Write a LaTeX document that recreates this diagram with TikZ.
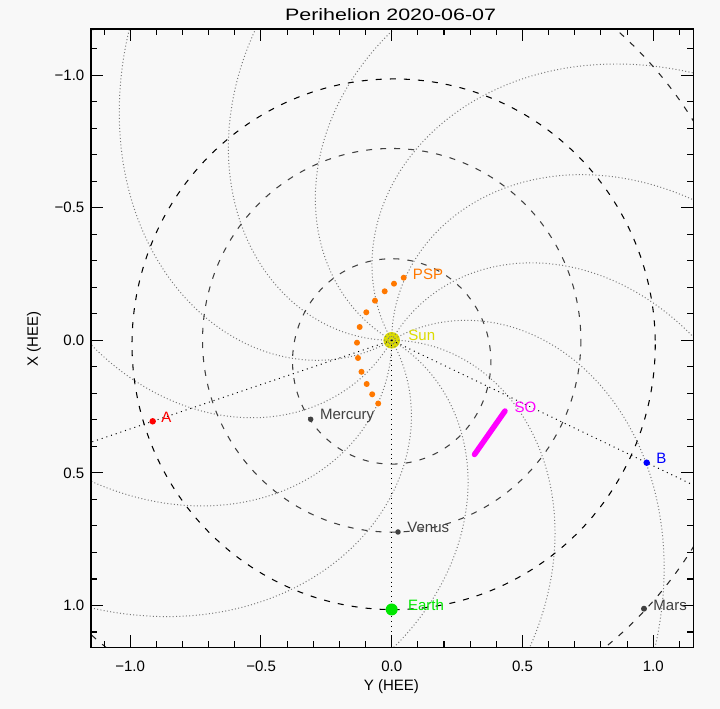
\documentclass[tikz,border=0pt]{standalone}
\usepackage{fontspec}
\usetikzlibrary{calc}
\setmainfont{Liberation Sans}
\newfontfamily\titlefont[FakeStretch=1.3]{Liberation Sans}
\newcommand{\lblsize}{\fontsize{4.27pt}{5pt}\selectfont}
\newcommand{\ttlsize}{\titlefont\fontsize{4.69pt}{5.5pt}\selectfont}
\definecolor{bg}{RGB}{248,248,248}
\definecolor{sunc}{RGB}{220,220,0}
\definecolor{earthc}{RGB}{0,230,0}
\definecolor{pspc}{RGB}{255,120,0}
\definecolor{planc}{RGB}{64,64,64}
\definecolor{spiralc}{RGB}{120,120,120}
\definecolor{soc}{RGB}{255,0,255}
\begin{document}
\begin{tikzpicture}[x=0.01cm, y=-0.01cm,
  spiral/.style={draw=spiralc, line width=0.28pt, dash pattern=on 0.28pt off 0.66pt},
  radial/.style={draw=black, line width=0.28pt, dash pattern=on 0.28pt off 1.12pt},
  orbit/.style={line width=0.3pt, dash pattern=on 1.7pt off 2.3pt},
  body/.style={circle, inner sep=0pt, minimum size=#1},
  lbl/.style={font=\lblsize, anchor=base west, inner sep=0pt},
  ticklbl/.style={font=\lblsize, inner sep=0pt},
  tickln/.style={line width=0.3pt},
]
\fill[bg] (0,0) rectangle (720,709);
\useasboundingbox (0,0) rectangle (720,709);

% positions
\coordinate (pA) at (152.7,421.3);
\coordinate (pB) at (646.7,462.7);
\coordinate (pE) at (391.7,609.5);
\coordinate (pMe) at (310.7,419.3);
\coordinate (pV) at (398,532);
\coordinate (pMa) at (644,608.7);
\coordinate (so1) at (474.5,454.5);
\coordinate (so2) at (505,411);

% Sun
\node[body=0.166cm, fill=sunc] (sun) at (391.7,340.3) {};

% plot contents
\begin{scope}
  \clip (91,29) rectangle (693.3,647.3);
  \begin{scope}[shift={(391.7,340.3)}, x=2.615cm, y=-2.652cm]
    \foreach \t in {0,30,...,330}
      \draw[spiral] plot[domain=0:1.75, samples=120, variable=\rr]
        ({\rr*cos(\t-51.5*\rr)}, {-\rr*sin(\t-51.5*\rr)});
    % Mercury
    \draw[orbit, draw=planc] plot[domain=0:360, samples=181, variable=\a]
      ({0.379*sin(\a)}, {0.0796+0.387*cos(\a)});
    % Venus
    \draw[orbit, draw=planc] plot[domain=0:360, samples=181, variable=\a]
      ({0.723*cos(\a)}, {0.723*sin(\a)});
    % Earth
    \draw[orbit, draw=black] plot[domain=0:360, samples=241, variable=\a]
      ({0.0074+cos(\a)}, {0.015+sin(\a)});
    % Mars
    \draw[orbit, draw=black!85] plot[domain=0:360, samples=361, variable=\a]
      ({-0.140+1.5237*cos(\a)*0.983+1.5170*sin(\a)*0.184},
       {-0.026+1.5237*cos(\a)*0.184-1.5170*sin(\a)*0.983});
  \end{scope}
  \draw[radial] (sun.center) -- ($(sun.center)!4!(pA)$);
  \draw[radial] (sun.center) -- ($(sun.center)!4!(pB)$);
  \draw[radial] (sun.center) -- ($(sun.center)!4!(pE)$);
\end{scope}

% axes frame
\draw[tickln] (91,29) rectangle (693.3,647.3);
\foreach \i in {-11,...,11}{
  \draw[tickln] ({391.7+26.15*\i},647.3) -- ++(0,-6.5);
  \draw[tickln] ({391.7+26.15*\i},29) -- ++(0,6.5);
  \draw[tickln] (91,{340.3+26.52*\i}) -- ++(6.5,0);
  \draw[tickln] (693.3,{340.3+26.52*\i}) -- ++(-6.5,0);
}
\foreach \i in {-10,-5,0,5,10}{
  \draw[tickln] ({391.7+26.15*\i},647.3) -- ++(0,-12.5);
  \draw[tickln] ({391.7+26.15*\i},29) -- ++(0,12.5);
  \draw[tickln] (91,{340.3+26.52*\i}) -- ++(12.5,0);
  \draw[tickln] (693.3,{340.3+26.52*\i}) -- ++(-12.5,0);
}
% tick labels
\node[ticklbl] (bx1) at (130.2,666.2) {−1.0};
\node[ticklbl] (bx2) at (261.1,666.2) {−0.5};
\node[ticklbl] (bx3) at (391.7,666.2) {0.0};
\node[ticklbl] (bx4) at (522.5,666.2) {0.5};
\node[ticklbl] (bx5) at (653.2,666.2) {1.0};
\node[ticklbl, anchor=east] (ly1) at (85,75.1) {−1.0};
\node[ticklbl, anchor=east] (ly2) at (85,207.7) {−0.5};
\node[ticklbl, anchor=east] (ly3) at (85,340.3) {0.0};
\node[ticklbl, anchor=east] (ly4) at (85,472.9) {0.5};
\node[ticklbl, anchor=east] (ly5) at (85,605.5) {1.0};
\node[ticklbl, anchor=base] (xlab) at (391.4,690.7) {Y (HEE)};
\node[ticklbl, rotate=90] (ylab) at (34,339.4) {X (HEE)};
\node[font=\ttlsize, anchor=base, inner sep=0pt] (title) at (390.6,20.7) {Perihelion 2020-06-07};

% Solar Orbiter track
\draw[soc, line width=0.055cm, line cap=round] (so1) -- (so2);

% PSP
\foreach \p [count=\k] in {(403.7,277.7),(394,283.7),(384.7,291.3),(375,300.7),(366.3,312.3),(359.7,327),(357,342.7),(358,358),(361.5,371.8),(366.7,384),(372.2,394.3),(378.2,403.5)}
  \node[body=0.06cm, fill=pspc] (psp\k) at \p {};

% bodies
\node[body=0.12cm, fill=earthc] (earth) at (pE) {};
\node[body=0.055cm, fill=planc] (mercury) at (pMe) {};
\node[body=0.055cm, fill=planc] (venus) at (pV) {};
\node[body=0.06cm, fill=planc] (mars) at (pMa) {};
\node[body=0.065cm, fill=red] (staA) at (pA) {};
\node[body=0.065cm, fill=blue] (staB) at (pB) {};

% labels
\node[lbl, text=sunc] (lsun) at (407.7,340.7) {Sun};
\node[lbl, text=pspc] (lpsp) at (412.3,279.7) {PSP};
\node[lbl, text=soc] (lso) at (514,412.7) {SO};
\node[lbl, text=red] (la) at (160.7,422.5) {A};
\node[lbl, text=blue] (lb) at (655.7,464) {B};
\node[lbl, text=planc] (lme) at (319.3,420) {Mercury};
\node[lbl, text=planc] (lve) at (406.7,533) {Venus};
\node[lbl, text=earthc] (lea) at (407.3,610.5) {Earth};
\node[lbl, text=planc] (lma) at (652.7,610.7) {Mars};
\end{tikzpicture}
\end{document}
